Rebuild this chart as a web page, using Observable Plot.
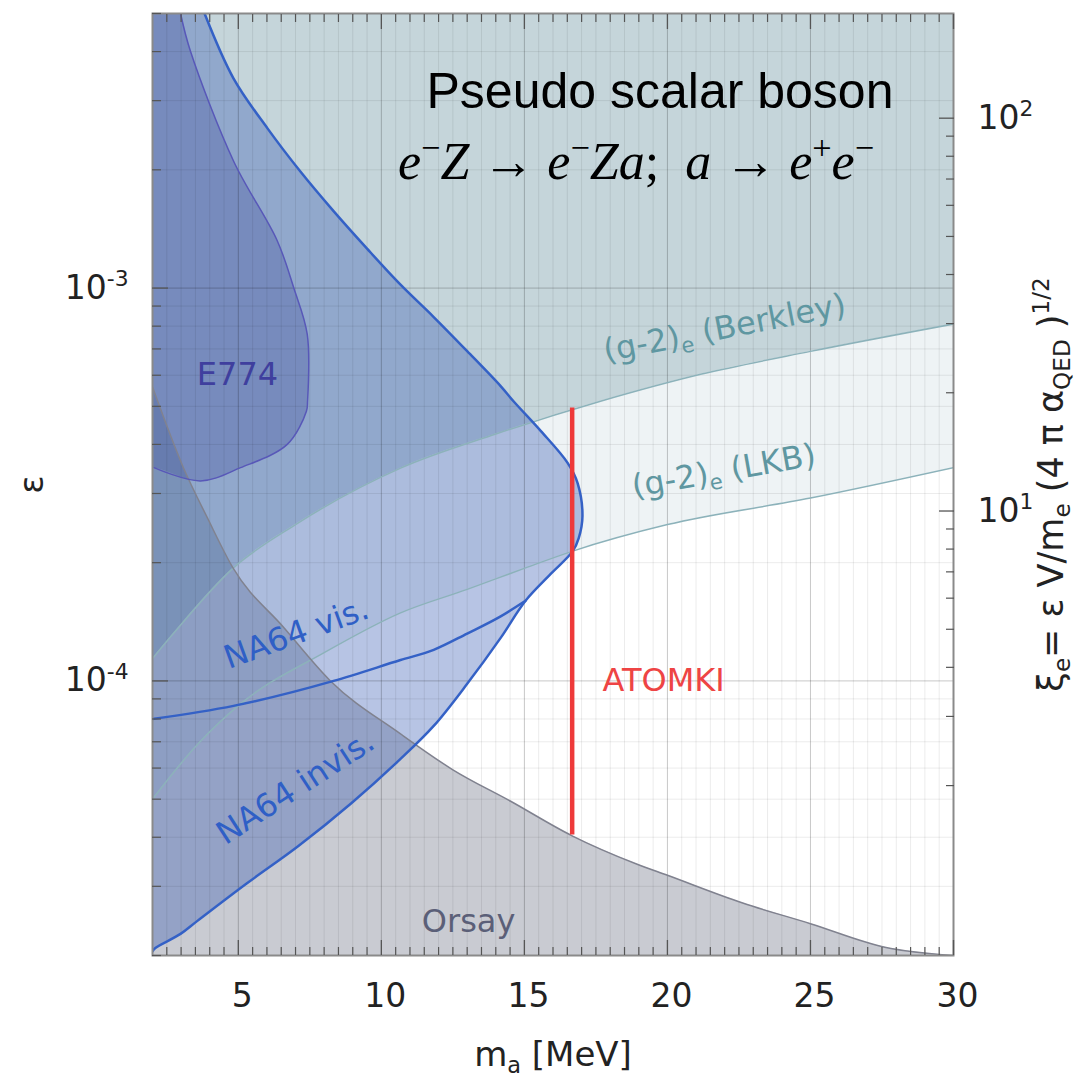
<!DOCTYPE html>
<html>
<head>
<meta charset="utf-8">
<script src="https://cdn.jsdelivr.net/npm/d3@7"></script>
<script src="https://cdn.jsdelivr.net/npm/@observablehq/plot@0.6"></script>
<style>
html, body { margin: 0; padding: 0; background: #fff; }
svg text { white-space: pre; }
</style>
</head>
<body>
<div id="chart"></div>
<script>
// ---------------- data ----------------
const X_DOMAIN = [2, 30];
const Y_DOMAIN = [2e-5, 5e-3];

// x ticks
const xMajor = [5, 10, 15, 20, 25, 30];
const xMinor = [2.5,3,3.5,4,4.5,5.5,6,6.5,7,7.5,8,8.5,9,9.5,10.5,11,11.5,12,12.5,13,13.5,14,14.5,
  15.5,16,16.5,17,17.5,18,18.5,19,19.5,20.5,21,21.5,22,22.5,23,23.5,24,24.5,25.5,26,26.5,27,27.5,28,28.5,29,29.5];
// left (epsilon) ticks
const yMajor = [1e-4, 1e-3];
const yMajorLabels = ["10^{-4}", "10^{-3}"];
const yMinor = [2e-5,3e-5,4e-5,5e-5,6e-5,7e-5,8e-5,9e-5,2e-4,3e-4,4e-4,5e-4,6e-4,7e-4,8e-4,9e-4,2e-3,3e-3,4e-3,5e-3];
// right (xi_e) axis: xi_e = XI_PER_EPS * epsilon
const XI_PER_EPS = 36940;
const rightMajor = [100, 10];
const rightMajorLabels = ["10^{2}", "10^{1}"];
const rightMinor = [90, 80, 70, 60, 50, 40, 30, 20, 9, 8, 7, 6, 5, 4, 3, 2];

// Orsay (beam dump) boundary
const orsayX   = [2, 3.08, 3.92, 4.83, 6.58, 8.22, 10.67, 12.5, 14.52, 16.65, 18.92, 20, 22.63, 25, 27.6, 30];
const orsayEps = [5.6e-4, 3.49e-4, 2.6e-4, 1.93e-4, 1.37e-4, 1.0e-4, 7.33e-5, 5.94e-5, 4.94e-5, 4.04e-5, 3.42e-5, 3.2e-5, 2.72e-5, 2.41e-5, 2.1e-5, 2.0e-5];
// (g-2)e Berkley lower boundary
const berkX   = [2, 2.73, 4.83, 7, 10.67, 14, 17.66, 21.2, 25, 30];
const berkEps = [1.14e-4, 1.32e-4, 1.94e-4, 2.5e-4, 3.48e-4, 4.25e-4, 5.15e-4, 6.04e-4, 6.9e-4, 8.1e-4];
// (g-2)e LKB lower boundary
const lkbX   = [2, 3.5, 5, 8, 10.67, 13, 15.04, 16.69, 20, 25, 30];
const lkbEps = [5.0e-5, 6.8e-5, 8.65e-5, 1.18e-4, 1.49e-4, 1.71e-4, 1.94e-4, 2.14e-4, 2.5e-4, 2.92e-4, 3.49e-4];
// NA64 outer boundary (upper curve down to the nose, then invisible-mode curve)
const na64X   = [3.82, 4.83, 6.02, 7.17, 8.33, 9.5, 10.67, 11.83, 13.0, 14.17, 14.62, 15.57, 16.51, 16.86, 17.03, 16.9, 16.69,
  15.92, 15.04, 14.17, 13.0, 11.83, 10.67, 8.96, 7.1, 5.29, 3.57, 2.98, 2.1, 2.0];
const na64Eps = [5.0e-3, 3.42e-3, 2.55e-3, 1.98e-3, 1.57e-3, 1.26e-3, 1.02e-3, 8.44e-4, 6.91e-4, 5.63e-4, 5.15e-4, 4.33e-4, 3.59e-4, 3.19e-4, 2.63e-4, 2.31e-4, 2.14e-4,
  1.872e-4, 1.6e-4, 1.287e-4, 9.83e-5, 7.68e-5, 6.33e-5, 4.89e-5, 3.8e-5, 3.05e-5, 2.45e-5, 2.27e-5, 2.09e-5, 2.05e-5];
// NA64 visible-mode lower curve
const na64VisX   = [2, 4.83, 8.33, 10.67, 11.83, 13.0, 14.17, 15.04];
const na64VisEps = [8.0e-5, 8.64e-5, 1.0e-4, 1.13e-4, 1.2e-4, 1.32e-4, 1.46e-4, 1.6e-4];
// E774 boundary
const e774X   = [2.98, 3.33, 4.84, 6.36, 6.94, 7.41, 7.42, 7.38, 6.71, 5.08, 3.68, 2.05];
const e774Eps = [5.0e-3, 4.0e-3, 2.1e-3, 1.32e-3, 1.0e-3, 7.62e-4, 5.15e-4, 4.86e-4, 4.0e-4, 3.49e-4, 3.23e-4, 3.49e-4];
// ATOMKI X17 line
const atomki = [{x: 16.67, lo: 4.05e-5, hi: 4.95e-4}];

// annotations
const TITLE = "Pseudo scalar boson";
const FORMULA = "@{e}^{\u2212}@{Z} \u2192 @{e}^{\u2212}@{Za};  @{a} \u2192 @{e}^{+}@{e}^{\u2212}";
const X_LABEL = "m_{a} [MeV]";
const Y_LABEL = "\u03b5";
const Y2_LABEL = "\u03be_{e}= \u03b5 V/m_{e} (4 \u03c0 \u03b1_{QED} )^{1/2}";
const regionLabels = [
  {text: "E774", x: 4.97, eps: 6.0e-4, rotate: 0, color: "#3f3f9e", anchor: "middle"},
  {text: "(g-2)_{e} (Berkley)", x: 22.0, eps: 7.9e-4, rotate: -11, color: "#5f97a1", anchor: "middle"},
  {text: "(g-2)_{e} (LKB)", x: 21.97, eps: 3.42e-4, rotate: -10, color: "#5f97a1", anchor: "middle"},
  {text: "NA64 vis.", x: 7.03, eps: 1.32e-4, rotate: -20, color: "#2f5fc6", anchor: "middle"},
  {text: "NA64 invis.", x: 7.0, eps: 5.35e-5, rotate: -33, color: "#2f5fc6", anchor: "middle"},
  {text: "Orsay", x: 13.05, eps: 2.44e-5, rotate: 0, color: "#5b5f78", anchor: "middle"},
  {text: "ATOMKI", x: 17.73, eps: 1.0e-4, rotate: 0, color: "#ee4444", anchor: "start"}
];

// ---------------- build rows ----------------
const rows = (xs, ys) => xs.map((x, i) => ({x, eps: ys[i]}));
const orsay = rows(orsayX, orsayEps);
const berkley = rows(berkX, berkEps);
const lkb = rows(lkbX, lkbEps);
const na64 = rows(na64X, na64Eps);
const na64Vis = rows(na64VisX, na64VisEps);
const e774 = rows(e774X, e774Eps);
// close the E774 polygon outside the frame (clipped away)
const e774Poly = [{x: 1, eps: 6.2e-3}, {x: 2.63, eps: 6.2e-3}, ...e774, {x: 1, eps: e774[e774.length - 1].eps}];
const rightMajorEps = rightMajor.map(v => v / XI_PER_EPS);
const rightMinorEps = rightMinor.map(v => v / XI_PER_EPS);

const OUT_LO = 1e-5, OUT_HI = 1e-2, OUT_LEFT = 1;
const TICK = "#555";
const BLUE = "#3461c6";

const tickAxes = [];
for (const anchor of ["bottom", "top"]) {
  tickAxes.push(Plot.axisX({ticks: xMajor, anchor, tickSize: -15, tickFormat: () => "", label: null, stroke: TICK, strokeWidth: 1.3}));
  tickAxes.push(Plot.axisX({ticks: xMinor, anchor, tickSize: -8, tickFormat: () => "", label: null, stroke: TICK, strokeWidth: 1.2}));
}
tickAxes.push(Plot.axisY({ticks: yMajor, anchor: "left", tickSize: -16, tickFormat: () => "", label: null, stroke: TICK, strokeWidth: 1.3}));
tickAxes.push(Plot.axisY({ticks: yMinor, anchor: "left", tickSize: -9, tickFormat: () => "", label: null, stroke: TICK, strokeWidth: 1.2}));
tickAxes.push(Plot.axisY({ticks: rightMajorEps, anchor: "right", tickSize: -15, tickFormat: () => "", label: null, stroke: TICK, strokeWidth: 1.3}));
tickAxes.push(Plot.axisY({ticks: rightMinorEps, anchor: "right", tickSize: -8, tickFormat: () => "", label: null, stroke: TICK, strokeWidth: 1.2}));

const svg = Plot.plot({
  width: 1085,
  height: 1078,
  marginLeft: 152,
  marginRight: 132,
  marginTop: 13,
  marginBottom: 123,
  x: {domain: X_DOMAIN},
  y: {type: "log", domain: Y_DOMAIN},
  style: {fontFamily: "DejaVu Sans", fontSize: "32px", background: "#fff", overflow: "visible"},
  marks: [
    // filled regions
    Plot.areaY(orsay, {x: "x", y1: () => OUT_LO, y2: "eps", fill: "#4b5269", fillOpacity: 0.3, curve: "monotone-x", clip: true}),
    Plot.areaY(lkb, {x: "x", y1: "eps", y2: () => OUT_HI, fill: "#7fa5b0", fillOpacity: 0.13, curve: "monotone-x", clip: true}),
    Plot.areaY(berkley, {x: "x", y1: "eps", y2: () => OUT_HI, fill: "#4a7b8d", fillOpacity: 0.25, curve: "monotone-x", clip: true}),
    Plot.area(na64, {x1: () => OUT_LEFT, y1: "eps", x2: "x", y2: "eps", fill: "#3156b2", fillOpacity: 0.35, curve: "catmull-rom", clip: true}),
    Plot.line(e774Poly, {x: "x", y: "eps", fill: "#3c4a9c", fillOpacity: 0.3, stroke: "none", curve: "catmull-rom", clip: true}),
    // grid
    Plot.gridX({ticks: xMinor, stroke: "#000", strokeOpacity: 0.08, strokeWidth: 1}),
    Plot.gridY({ticks: yMinor, stroke: "#000", strokeOpacity: 0.08, strokeWidth: 1}),
    Plot.gridX({ticks: xMajor, stroke: "#000", strokeOpacity: 0.22, strokeWidth: 1}),
    Plot.gridY({ticks: yMajor, stroke: "#000", strokeOpacity: 0.22, strokeWidth: 1}),
    // boundary lines
    Plot.line(lkb, {x: "x", y: "eps", stroke: "#8cb2ba", strokeWidth: 1.5, curve: "monotone-x", clip: true}),
    Plot.line(berkley, {x: "x", y: "eps", stroke: "#8cb2ba", strokeWidth: 1.5, curve: "monotone-x", clip: true}),
    Plot.line(orsay, {x: "x", y: "eps", stroke: "#80828f", strokeWidth: 1.5, curve: "monotone-x", clip: true}),
    Plot.line(e774, {x: "x", y: "eps", stroke: "#5858b8", strokeWidth: 1.5, curve: "catmull-rom", clip: true}),
    Plot.line(na64Vis, {x: "x", y: "eps", stroke: BLUE, strokeWidth: 2.5, curve: "monotone-x", clip: true}),
    Plot.line(na64, {x: "x", y: "eps", stroke: BLUE, strokeWidth: 2.5, curve: "catmull-rom", clip: true}),
    Plot.ruleX(atomki, {x: "x", y1: "lo", y2: "hi", stroke: "#ee3a3a", strokeWidth: 4.5}),
    // region labels
    ...regionLabels.map(l => Plot.text([l], {x: "x", y: "eps", text: "text", rotate: l.rotate, fill: l.color,
      fontSize: 32, textAnchor: l.anchor, lineAnchor: "middle"})),
    // title and formula
    Plot.text([TITLE], {text: d => d, frameAnchor: "top", textAnchor: "middle", dx: 107, dy: 94, lineAnchor: "bottom",
      fontFamily: "Liberation Sans", fontSize: 50, fill: "#000"}),
    Plot.text([FORMULA], {text: d => d, frameAnchor: "top", textAnchor: "middle", dx: 83, dy: 165, lineAnchor: "bottom",
      fontFamily: "Liberation Serif", fontSize: 52, fill: "#000"}),
    // frame and ticks
    Plot.frame({stroke: "#8a8a8a", strokeWidth: 2}),
    ...tickAxes,
    // tick labels
    Plot.text(xMajor, {x: d => d, text: d => String(d), frameAnchor: "bottom", textAnchor: "middle", lineAnchor: "top", dy: 28, dx: 4, fontSize: 33, fill: "#222"}),
    Plot.text(yMajor, {y: d => d, text: (d, i) => yMajorLabels[i], frameAnchor: "left", textAnchor: "end", lineAnchor: "middle", dx: -24, fontSize: 33, fill: "#222"}),
    Plot.text(rightMajorEps, {y: d => d, text: (d, i) => rightMajorLabels[i], frameAnchor: "right", textAnchor: "start", lineAnchor: "middle", dx: 24, fontSize: 33, fill: "#222"}),
    // axis labels
    Plot.text([X_LABEL], {text: d => d, frameAnchor: "bottom", textAnchor: "middle", dy: 100, lineAnchor: "middle", fontSize: 34, fill: "#222"}),
    Plot.text([Y_LABEL], {text: d => d, frameAnchor: "left", textAnchor: "middle", dx: -120, rotate: -90, lineAnchor: "middle", fontSize: 34, fill: "#222"}),
    Plot.text([Y2_LABEL], {text: d => d, frameAnchor: "right", textAnchor: "middle", dx: 98, rotate: -90, lineAnchor: "middle", fontSize: 35, fill: "#222"})
  ]
});

document.getElementById("chart").appendChild(svg);

// turn ^{...} (raised), _{...} (lowered) and @{...} (italic) markup into tspans
function richify(root) {
  const NS = "http://www.w3.org/2000/svg";
  root.querySelectorAll("text").forEach(t => {
    const s = t.textContent;
    if (!/[_^@]\{/.test(s)) return;
    const fs = parseFloat(getComputedStyle(t).fontSize) || 32;
    const parts = [];
    const re = /([_^@])\{([^}]*)\}/g;
    let last = 0, m;
    while ((m = re.exec(s))) {
      if (m.index > last) parts.push({text: s.slice(last, m.index), mode: "n"});
      parts.push({text: m[2], mode: m[1]});
      last = re.lastIndex;
    }
    if (last < s.length) parts.push({text: s.slice(last), mode: "n"});
    while (t.firstChild) t.removeChild(t.firstChild);
    let shift = 0;
    for (const p of parts) {
      const ts = document.createElementNS(NS, "tspan");
      const target = p.mode === "^" ? -0.38 * fs : p.mode === "_" ? 0.2 * fs : 0;
      const d = target - shift;
      if (d) ts.setAttribute("dy", d.toFixed(2));
      shift = target;
      if (p.mode === "^" || p.mode === "_") ts.setAttribute("font-size", (0.66 * fs).toFixed(2) + "px");
      if (p.mode === "@") ts.setAttribute("font-style", "italic");
      ts.textContent = p.text;
      t.appendChild(ts);
    }
  });
}
richify(svg);
</script>
</body>
</html>
